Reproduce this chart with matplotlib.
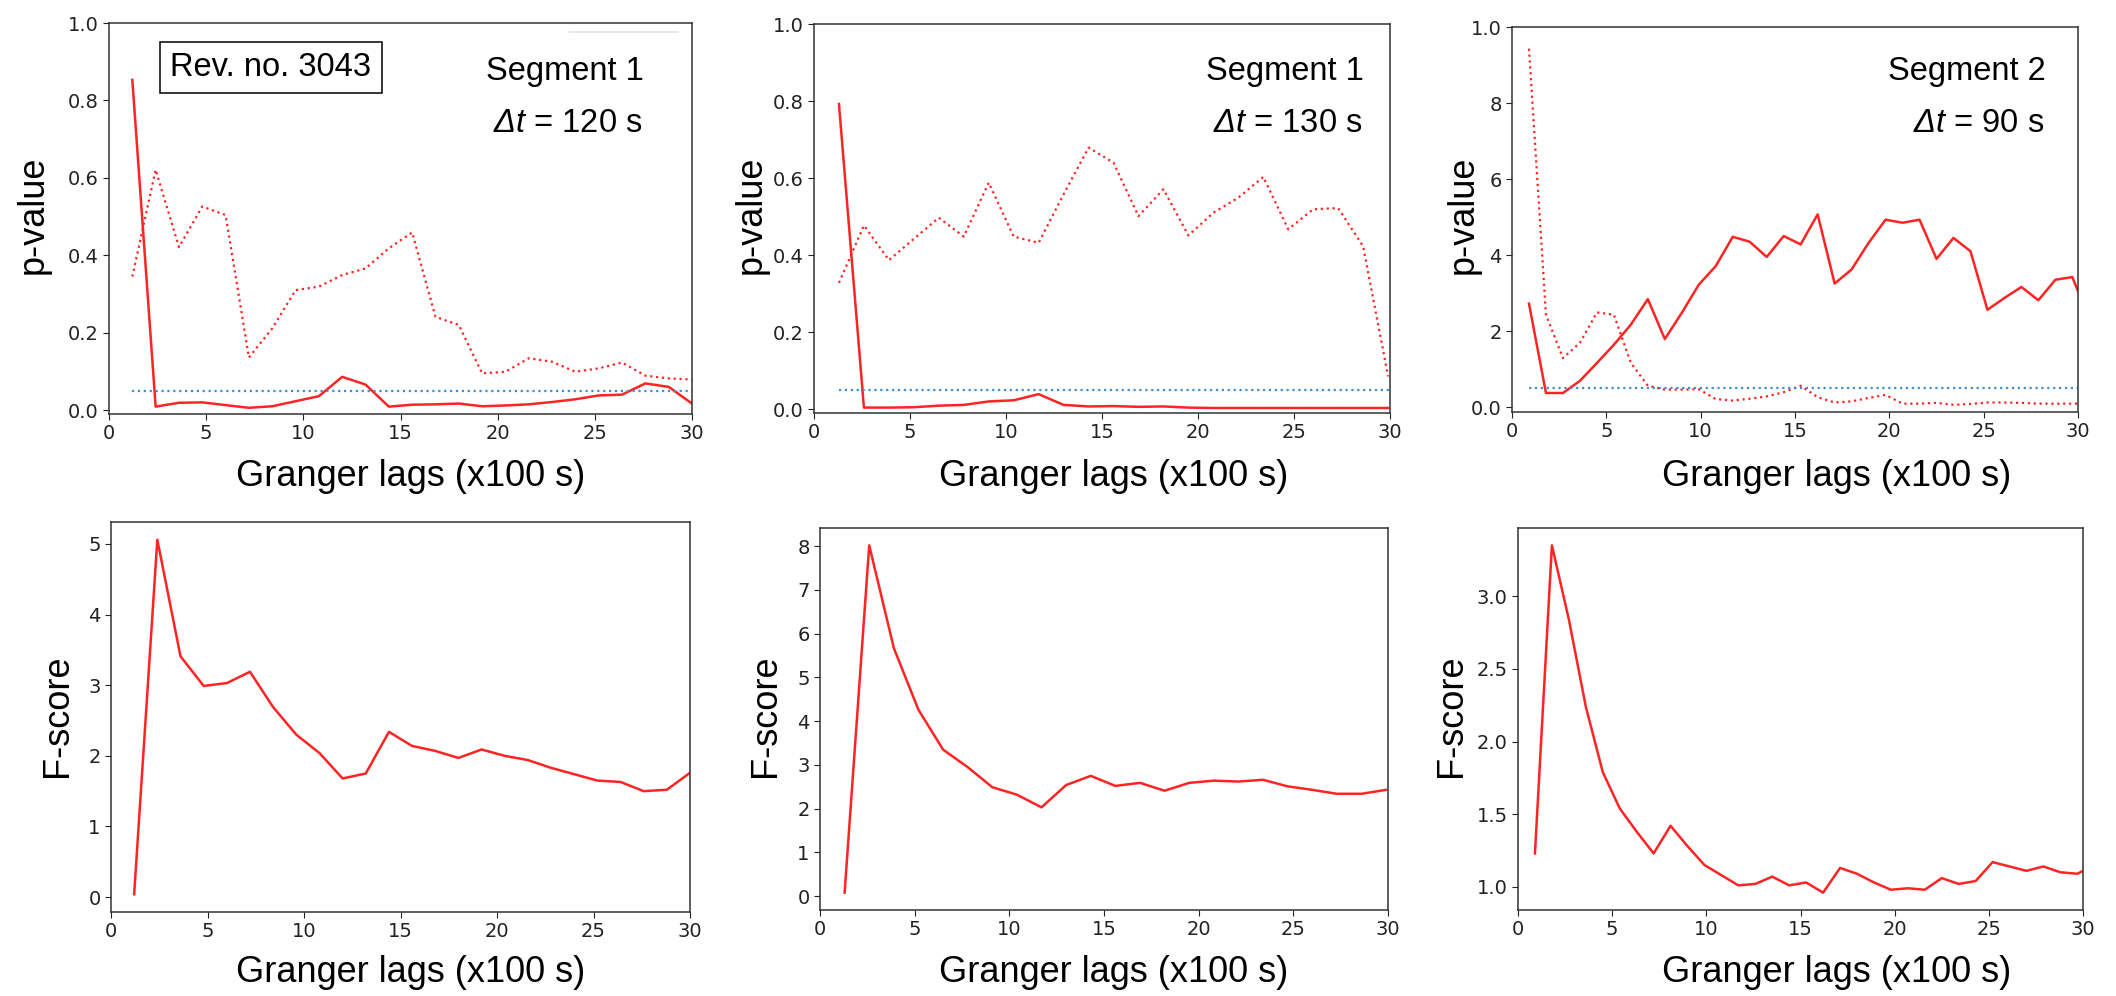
import numpy as np
import matplotlib
matplotlib.use('Agg')
import matplotlib.pyplot as plt

# Math text only used for the italic "Δt"
plt.rcParams['mathtext.fontset'] = 'custom'
plt.rcParams['mathtext.rm'] = 'Liberation Sans:italic'
plt.rcParams['mathtext.it'] = 'Liberation Sans:italic'

W, H = 2116, 996
RED = '#ff2424'
BLUE = '#3d8fcf'
LABEL_FONT = 'Liberation Sans'

# ---------------- data ----------------
# Granger lags (x100 s) for each segment
lags_a = [1.2, 2.4, 3.6, 4.8, 6.0, 7.2, 8.4, 9.6, 10.8, 12.0, 13.2, 14.4, 15.6,
          16.8, 18.0, 19.2, 20.4, 21.6, 22.8, 24.0, 25.2, 26.4, 27.6, 28.8, 30.0]
lags_b = [1.3, 2.6, 3.9, 5.2, 6.5, 7.8, 9.1, 10.4, 11.7, 13.0, 14.3, 15.6,
          16.9, 18.2, 19.5, 20.8, 22.1, 23.4, 24.7, 26.0, 27.3, 28.6, 29.9]
lags_c = [0.9, 1.8, 2.7, 3.6, 4.5, 5.4, 6.3, 7.2, 8.1, 9.0, 9.9, 10.8, 11.7,
          12.6, 13.5, 14.4, 15.3, 16.2, 17.1, 18.0, 18.9, 19.8, 20.7, 21.6,
          22.5, 23.4, 24.3, 25.2, 26.1, 27.0, 27.9, 28.8, 29.7, 30.6]

# p-values, solid line
p_solid_a = [0.853, 0.009, 0.019, 0.020, 0.013, 0.006, 0.010, 0.023, 0.036, 0.086,
             0.066, 0.009, 0.014, 0.015, 0.017, 0.010, 0.012, 0.015, 0.021, 0.028,
             0.038, 0.040, 0.069, 0.060, 0.017]
p_solid_b = [0.792, 0.004, 0.004, 0.005, 0.009, 0.011, 0.020, 0.023, 0.039, 0.011,
             0.007, 0.008, 0.006, 0.007, 0.004, 0.003, 0.003, 0.003, 0.003, 0.003,
             0.003, 0.003, 0.003]
p_solid_c = [2.72, 0.37, 0.37, 0.69, 1.16, 1.64, 2.17, 2.84, 1.79, 2.48, 3.22, 3.71,
             4.48, 4.35, 3.95, 4.50, 4.28, 5.07, 3.25, 3.62, 4.32, 4.93, 4.85, 4.93,
             3.90, 4.45, 4.10, 2.56, 2.87, 3.16, 2.81, 3.35, 3.42, 2.30]

# p-values, dotted line
p_dot_a = [0.345, 0.621, 0.421, 0.526, 0.504, 0.136, 0.211, 0.310, 0.319, 0.349,
           0.366, 0.418, 0.459, 0.241, 0.220, 0.095, 0.099, 0.134, 0.125, 0.099,
           0.108, 0.123, 0.089, 0.082, 0.079]
p_dot_b = [0.328, 0.477, 0.387, 0.442, 0.497, 0.448, 0.588, 0.448, 0.432, 0.558,
           0.679, 0.640, 0.501, 0.571, 0.451, 0.510, 0.549, 0.603, 0.467, 0.519,
           0.522, 0.423, 0.085]
p_dot_c = [9.43, 2.43, 1.29, 1.69, 2.49, 2.43, 1.16, 0.56, 0.46, 0.46, 0.47, 0.21,
           0.17, 0.22, 0.28, 0.39, 0.56, 0.26, 0.12, 0.15, 0.24, 0.32, 0.09, 0.09,
           0.11, 0.06, 0.08, 0.12, 0.12, 0.11, 0.09, 0.09, 0.09, 0.09]

# F-scores
f_a = [0.04, 5.06, 3.41, 2.99, 3.03, 3.19, 2.69, 2.30, 2.04, 1.68, 1.75, 2.34, 2.14,
       2.07, 1.97, 2.09, 2.00, 1.94, 1.83, 1.74, 1.65, 1.63, 1.50, 1.52, 1.76]
f_b = [0.08, 8.02, 5.67, 4.26, 3.35, 2.95, 2.49, 2.32, 2.03, 2.54, 2.75, 2.52,
       2.59, 2.41, 2.59, 2.64, 2.62, 2.66, 2.51, 2.43, 2.34, 2.34, 2.43]
f_c = [1.23, 3.35, 2.84, 2.24, 1.79, 1.54, 1.38, 1.23, 1.42, 1.28, 1.15, 1.08, 1.01,
       1.02, 1.07, 1.01, 1.03, 0.96, 1.13, 1.09, 1.03, 0.98, 0.99, 0.98, 1.06, 1.02,
       1.04, 1.17, 1.14, 1.11, 1.14, 1.10, 1.09, 1.15]

threshold = [0.05, 0.05, 0.5]
segments = ['Segment 1', 'Segment 1', 'Segment 2']
dts = ['120', '130', '90']

# ---------------- layout (pixel boxes: x0, x1, y0, y1 from top) ----------------
top_boxes = [(109, 692, 23, 414), (814, 1390, 24, 413), (1512, 2078, 27, 412)]
bot_boxes = [(111, 690, 522, 912), (820, 1388, 528, 910), (1518, 2083, 528, 910)]

fig = plt.figure(figsize=(W / 100, H / 100), dpi=100)


def make_axes(box):
    x0, x1, y0, y1 = box
    ax = fig.add_axes([x0 / W, 1 - y1 / H, (x1 - x0) / W, (y1 - y0) / H])
    ax.set_xlim(0, 30)
    ax.set_xticks([0, 5, 10, 15, 20, 25, 30])
    ax.tick_params(labelsize=14, colors='#222222', length=4)
    for s in ax.spines.values():
        s.set_color('#333333')
        s.set_linewidth(1.1)
    return ax


def px_text(x, y, s, **kw):
    return fig.text(x / W, 1 - y / H, s, **kw)


lags = [lags_a, lags_b, lags_c]
p_solid = [p_solid_a, p_solid_b, p_solid_c]
p_dot = [p_dot_a, p_dot_b, p_dot_c]
fs = [f_a, f_b, f_c]

# ---------------- top row: p-values ----------------
for i, box in enumerate(top_boxes):
    ax = make_axes(box)
    x = lags[i]
    ax.plot(x, p_solid[i], color=RED, lw=1.8)
    ax.plot(x, p_dot[i], color=RED, lw=1.6, ls=':')
    ax.plot([x[0], 30], [threshold[i], threshold[i]], color=BLUE, lw=1.6, ls=':')
    if i < 2:
        ax.set_ylim(-0.01, 1.0)
        ax.set_yticks([0.0, 0.2, 0.4, 0.6, 0.8, 1.0])
    else:
        # the third panel has odd tick labels in the source figure
        ax.set_ylim(-0.13, 10.0)
        ax.set_yticks([0, 2, 4, 6, 8, 10])
        ax.set_yticklabels(['0.0', '2', '4', '6', '8', '1.0'])

ylab_x_top = [33, 751, 1463]
xlab_x = [411, 1114, 1837]
for i in range(3):
    px_text(ylab_x_top[i], 215, 'p-value', rotation=90, ha='center', va='center',
            fontsize=26, family=LABEL_FONT)
    px_text(xlab_x[i], 477, 'Granger lags (x100 s)', ha='center', va='center',
            fontsize=26, family=LABEL_FONT)

# annotations
seg_right = [644, 1364, 2046]
for i in range(3):
    px_text(seg_right[i], 80, segments[i], ha='right', va='baseline',
            fontsize=23.5, family=LABEL_FONT)
    px_text(seg_right[i] - 2, 132, r'$\Delta t$ = ' + dts[i] + ' s', ha='right',
            va='baseline', fontsize=23.5, family=LABEL_FONT)

px_text(271, 67.5, 'Rev. no. 3043', ha='center', va='center', fontsize=23.5,
        family=LABEL_FONT,
        bbox=dict(boxstyle='square,pad=0.32', fc='white', ec='black', lw=1.1))

# faint leftover line in the first panel
fig.add_artist(plt.Line2D([569 / W, 678 / W], [1 - 32 / H, 1 - 32 / H],
                          color='#e4e4e4', lw=1.2))

# ---------------- bottom row: F-scores ----------------
for i, box in enumerate(bot_boxes):
    ax = make_axes(box)
    ax.plot(lags[i], fs[i], color=RED, lw=1.8)

bot_axes = fig.axes[3:]
bot_axes[0].set_yticks([0, 1, 2, 3, 4, 5])
bot_axes[1].set_yticks([0, 1, 2, 3, 4, 5, 6, 7, 8])
bot_axes[2].set_yticks([1.0, 1.5, 2.0, 2.5, 3.0])

ylab_x_bot = [57, 766, 1451]
for i in range(3):
    px_text(ylab_x_bot[i], 716, 'F-score', rotation=90, ha='center', va='center',
            fontsize=26, family=LABEL_FONT)
    px_text(xlab_x[i], 972, 'Granger lags (x100 s)', ha='center', va='center',
            fontsize=26, family=LABEL_FONT)

fig.savefig('out.png', dpi=100)
